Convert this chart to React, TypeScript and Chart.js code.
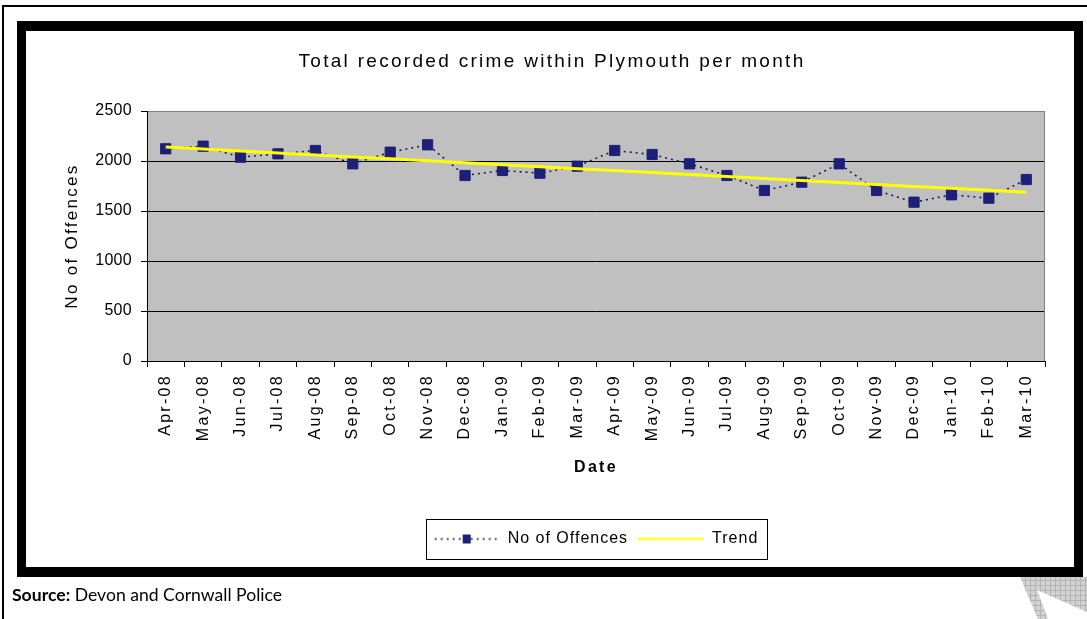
import React, { useEffect, useRef } from "react";
import { Chart, registerables } from "chart.js";

Chart.register(...registerables);

// Monthly categories on the x axis
const months = [
  "Apr-08", "May-08", "Jun-08", "Jul-08", "Aug-08", "Sep-08",
  "Oct-08", "Nov-08", "Dec-08", "Jan-09", "Feb-09", "Mar-09",
  "Apr-09", "May-09", "Jun-09", "Jul-09", "Aug-09", "Sep-09",
  "Oct-09", "Nov-09", "Dec-09", "Jan-10", "Feb-10", "Mar-10",
];

// Recorded offences per month
const offences = [
  2122, 2148, 2038, 2072, 2105, 1972, 2088, 2162, 1855, 1905, 1878, 1948,
  2105, 2065, 1972, 1855, 1705, 1788, 1972, 1705, 1588, 1662, 1628, 1815,
];

// Trend line values per month
const trend = [
  2140, 2120, 2100, 2081, 2061, 2041, 2022, 2002, 1982, 1963, 1943, 1923,
  1904, 1884, 1864, 1845, 1825, 1805, 1786, 1766, 1746, 1727, 1707, 1688,
];

const yMin = 0;
const yMax = 2500;
const yStep = 500;

const NAVY = "#1d1f78";
const DOT_LINE = "#1a1a55";
const TREND = "#ffff00";
const PLOT_BG = "#c0c0c0";
const PLOT_EDGE = "#808080";
const FONT = "'Liberation Sans', Arial, sans-serif";

const WIDE_SPACING = "2.3px";
const LEGEND_SPACING = "1px";
const YTICK_SPACING = "0.3px";

function makeSymbol(draw: (g: CanvasRenderingContext2D) => void) {
  const c = document.createElement("canvas");
  c.width = 66;
  c.height = 16;
  const g = c.getContext("2d") as CanvasRenderingContext2D;
  draw(g);
  return c;
}

// Runs a method of a chart element with a temporary letter spacing
function withSpacing(obj: any, key: string, spacing: string) {
  if (!obj || !obj[key] || obj[key].__spaced) return;
  const orig = obj[key];
  const wrapped = function (this: any, ...args: any[]) {
    const ctx = obj.ctx;
    const prev = ctx.letterSpacing;
    ctx.letterSpacing = spacing;
    try {
      return orig.apply(this, args);
    } finally {
      ctx.letterSpacing = prev;
    }
  };
  (wrapped as any).__spaced = true;
  obj[key] = wrapped;
}

// Open letter spacing for titles and category labels, tighter for the legend and value ticks
const spacingPlugin = {
  id: "textSpacing",
  beforeUpdate(chart: any) {
    chart.ctx.letterSpacing = WIDE_SPACING;
    withSpacing(chart.legend, "fit", LEGEND_SPACING);
    withSpacing(chart.legend, "draw", LEGEND_SPACING);
  },
  beforeLayout(chart: any) {
    withSpacing(chart.scales.y, "drawLabels", YTICK_SPACING);
  },
  beforeDraw(chart: any) {
    chart.ctx.letterSpacing = WIDE_SPACING;
  },
};

// Grey plot background plus grey right edge
const plotAreaPlugin = {
  id: "plotArea",
  beforeDraw(chart: any) {
    const { ctx, chartArea: a } = chart;
    ctx.save();
    ctx.fillStyle = PLOT_BG;
    ctx.fillRect(a.left, a.top, a.right - a.left, a.bottom - a.top);
    ctx.restore();
  },
  beforeDatasetsDraw(chart: any) {
    const { ctx, chartArea: a } = chart;
    ctx.save();
    ctx.strokeStyle = PLOT_EDGE;
    ctx.lineWidth = 1;
    ctx.beginPath();
    const x = Math.round(a.right) - 0.5;
    ctx.moveTo(x, a.top);
    ctx.lineTo(x, a.bottom);
    ctx.stroke();
    ctx.restore();
  },
};

// Thin frame round the legend entries
const legendBoxPlugin = {
  id: "legendBox",
  afterDraw(chart: any) {
    const lg = chart.legend;
    if (!lg || !lg.legendHitBoxes || !lg.legendHitBoxes.length) return;
    let l = Infinity, r = -Infinity, t = Infinity, b = -Infinity;
    for (const h of lg.legendHitBoxes) {
      l = Math.min(l, h.left);
      r = Math.max(r, h.left + h.width);
      t = Math.min(t, h.top);
      b = Math.max(b, h.top + h.height);
    }
    const ctx = chart.ctx;
    ctx.save();
    ctx.strokeStyle = "#000";
    ctx.lineWidth = 1;
    const x0 = Math.round(l - 8) + 0.5;
    const y0 = Math.round(t - 12) + 0.5;
    const x1 = Math.round(r + 9) + 0.5;
    const y1 = Math.round(b + 12) + 0.5;
    ctx.strokeRect(x0, y0, x1 - x0, y1 - y0);
    ctx.restore();
  },
};

export default function App() {
  const ref = useRef<HTMLCanvasElement>(null);

  useEffect(() => {
    const canvas = ref.current;
    if (!canvas) return;

    const offSym = makeSymbol((g) => {
      g.strokeStyle = DOT_LINE;
      g.lineWidth = 1.5;
      g.setLineDash([2, 4]);
      g.beginPath();
      g.moveTo(1, 8.5);
      g.lineTo(66, 8.5);
      g.stroke();
      g.fillStyle = NAVY;
      g.fillRect(29, 4, 8, 9);
    });
    const trendSym = makeSymbol((g) => {
      g.strokeStyle = TREND;
      g.lineWidth = 2;
      g.beginPath();
      g.moveTo(0, 8.5);
      g.lineTo(66, 8.5);
      g.stroke();
    });

    const chart = new Chart(canvas, {
      type: "line",
      data: {
        labels: months,
        datasets: [
          {
            label: "No of Offences",
            data: offences,
            order: 1,
            borderColor: DOT_LINE,
            borderWidth: 1.6,
            borderDash: [2, 4],
            tension: 0,
            pointStyle: "rect",
            pointRadius: 7.2,
            pointBackgroundColor: NAVY,
            pointBorderColor: NAVY,
            pointBorderWidth: 1,
          },
          {
            label: "Trend",
            data: trend,
            order: 0,
            borderColor: TREND,
            borderWidth: 3,
            tension: 0,
            pointRadius: 0,
          },
        ],
      },
      options: {
        responsive: false,
        maintainAspectRatio: false,
        animation: false,
        events: [],
        layout: { padding: { left: 33, right: 29, top: 0, bottom: 10.5 } },
        plugins: {
          tooltip: { enabled: false },
          title: {
            display: true,
            text: "Total recorded crime within Plymouth per month",
            color: "#000",
            font: { family: FONT, size: 19, weight: "normal" },
            padding: { top: 19.6, bottom: 37.6 },
          },
          legend: {
            display: true,
            position: "bottom",
            fullSize: false,
            labels: {
              color: "#000",
              font: { family: FONT, size: 16 },
              usePointStyle: true,
              pointStyleWidth: 66,
              boxHeight: 16,
              padding: 10,
              generateLabels: () => [
                {
                  text: "No of Offences",
                  pointStyle: offSym,
                  fillStyle: NAVY,
                  strokeStyle: NAVY,
                  lineWidth: 0,
                  hidden: false,
                  datasetIndex: 0,
                  fontColor: "#000",
                },
                {
                  text: "Trend",
                  pointStyle: trendSym,
                  fillStyle: TREND,
                  strokeStyle: TREND,
                  lineWidth: 0,
                  hidden: false,
                  datasetIndex: 1,
                  fontColor: "#000",
                },
              ],
            },
          },
        },
        scales: {
          x: {
            type: "category",
            offset: true,
            grid: {
              offset: true,
              drawOnChartArea: false,
              drawTicks: true,
              tickLength: 6,
              tickColor: "#000",
              color: "#000",
            },
            border: { color: "#000", width: 1 },
            ticks: {
              autoSkip: false,
              minRotation: 90,
              maxRotation: 90,
              color: "#000",
              padding: 7,
              font: { family: FONT, size: 16 },
            },
            title: {
              display: true,
              text: "Date",
              color: "#000",
              font: { family: FONT, size: 16, weight: "bold" },
              padding: { top: 0, bottom: 43.5 },
            },
            afterFit: (s: any) => {
              s.height = 159.5;
            },
          },
          y: {
            min: yMin,
            max: yMax,
            ticks: {
              stepSize: yStep,
              color: "#000",
              padding: 9,
              font: { family: FONT, size: 16 },
              callback: (v: any) => String(v),
            },
            grid: {
              color: (c: any) => (c.tick && c.tick.value === yMax ? PLOT_EDGE : "#000"),
              lineWidth: 1,
              tickLength: 6,
              tickColor: "#000",
            },
            border: { color: "#000", width: 1 },
            title: {
              display: true,
              text: "No of Offences",
              color: "#000",
              font: { family: FONT, size: 17, weight: "normal" },
              padding: { top: 2.8, bottom: 0 },
            },
            afterFit: (s: any) => {
              s.width = 88;
            },
          },
        },
      },
      plugins: [spacingPlugin, plotAreaPlugin, legendBoxPlugin],
    } as any);

    return () => chart.destroy();
  }, []);

  return (
    <div
      style={{
        position: "absolute",
        left: 0,
        top: 0,
        width: 1087,
        height: 619,
        overflow: "hidden",
        background: "#fff",
      }}
    >
      <div
        style={{
          position: "absolute",
          left: 2,
          top: 5,
          width: 1200,
          height: 700,
          borderTop: "2px solid #000",
          borderLeft: "2px solid #000",
        }}
      />
      <div
        style={{
          position: "absolute",
          left: 17,
          top: 21,
          width: 1048,
          height: 536,
          borderStyle: "solid",
          borderColor: "#000",
          borderWidth: "10px 9px 10px 9px",
          background: "#fff",
        }}
      >
        <canvas ref={ref} width={1048} height={536} style={{ display: "block" }} />
      </div>
      <svg
        width={1087}
        height={619}
        style={{ position: "absolute", left: 0, top: 0, pointerEvents: "none" }}
      >
        <defs>
          <pattern id="mesh" width="5" height="5" patternUnits="userSpaceOnUse">
            <rect width="5" height="5" fill="#d2d2d2" />
            <path d="M0 0.5H5M0.5 0V5" stroke="#a9a9a9" strokeWidth="0.7" />
          </pattern>
        </defs>
        <polygon
          points="1020,577 1087,577 1087,612 1037,590 1048,619 1038,619"
          fill="url(#mesh)"
        />
      </svg>
      <div
        style={{
          position: "absolute",
          left: 12,
          top: 585,
          fontFamily: "Lato, 'Open Sans', sans-serif",
          fontSize: 17.6,
          lineHeight: "20px",
          color: "#000",
          whiteSpace: "nowrap",
        }}
      >
        <b>Source:</b> Devon and Cornwall Police
      </div>
    </div>
  );
}
